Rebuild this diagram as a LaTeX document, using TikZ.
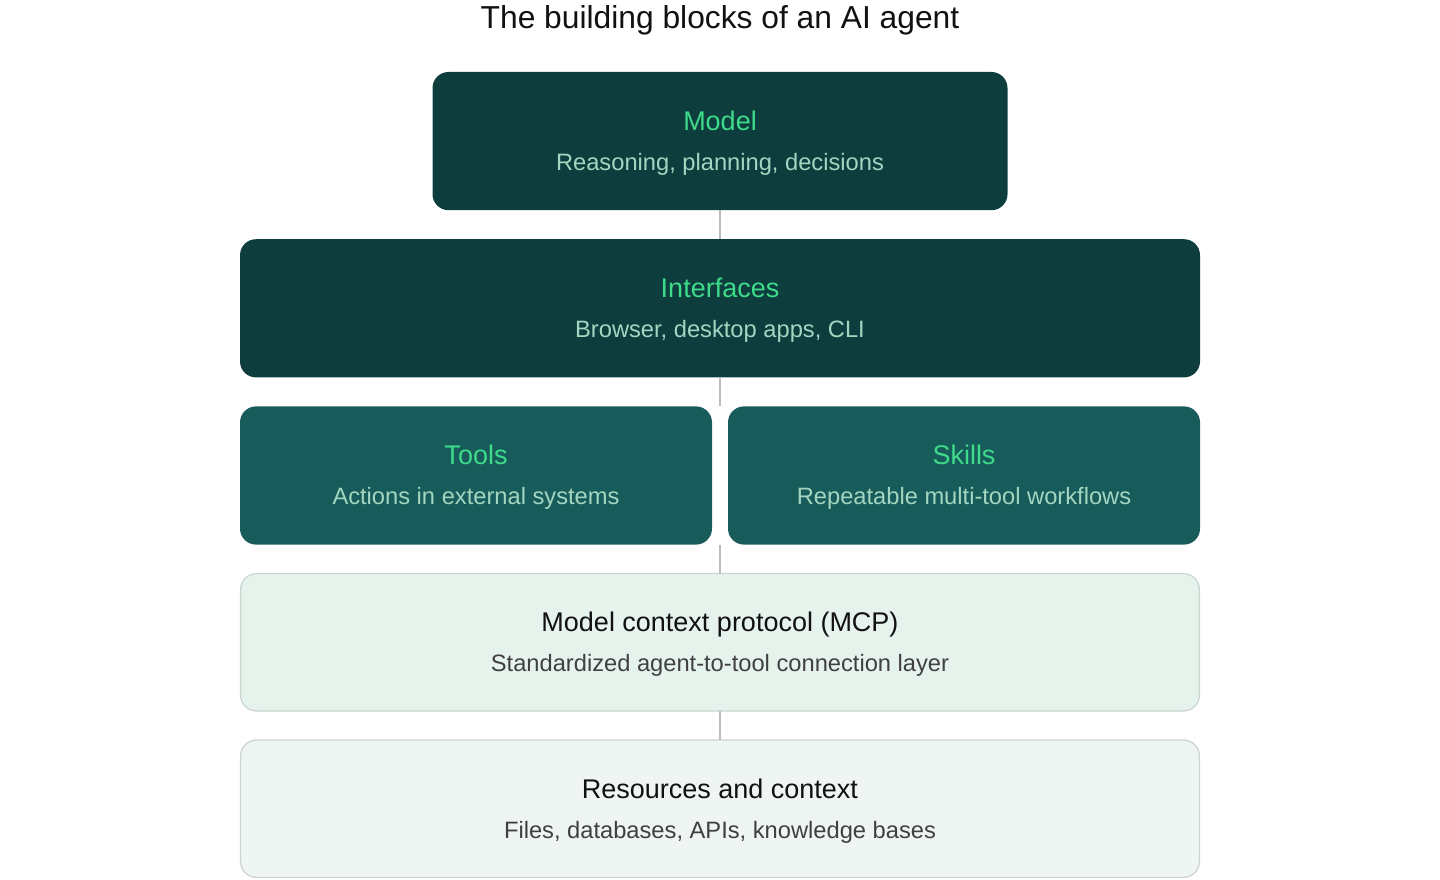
\documentclass[tikz,border=0pt]{standalone}
\usepackage{fontspec}
\setmainfont{Liberation Sans}
\definecolor{deepteal}{HTML}{0E3D3E}
\definecolor{midteal}{HTML}{175B5B}
\definecolor{mint}{HTML}{3DDB8A}
\definecolor{sage}{HTML}{A3D6C0}
\definecolor{mcpfill}{HTML}{E6F3EC}
\definecolor{resfill}{HTML}{EFF5F2}
\definecolor{edgegray}{HTML}{CBD5D0}
\definecolor{linkgray}{HTML}{BBBBBB}
\definecolor{ink}{HTML}{111111}
\definecolor{slate}{HTML}{404040}
\usetikzlibrary{positioning}
\newcommand{\blkhead}[2]{{\fontsize{19.2}{28.45}\selectfont\color{#1}\rule{0pt}{16.9pt}#2}}

\begin{document}
\begin{tikzpicture}[
    block/.style={rounded corners=0.4cm, minimum height=3.455cm, inner sep=0pt, outer sep=0pt,
      align=center, font=\fontsize{16.85}{28.45}\selectfont},
    darkblock/.style={block, fill=deepteal, text=sage},
    midblock/.style={block, fill=midteal, text=sage, minimum width=11.8cm},
    lightblock/.style={block, draw=edgegray, line width=0.9pt, text=slate,
      minimum width=23.97cm, minimum height=3.435cm},
    link/.style={draw=linkgray, line width=1.1pt},
    node distance=0.725cm,
  ]
    \useasboundingbox (0,0) rectangle (36,-22);
    \node[anchor=base, font=\fontsize{22.6}{27}\selectfont, text=ink] (title) at (18,-0.725) {The building blocks of an AI agent};

    \node[darkblock, minimum width=14.375cm, anchor=north] (model) at (18,-1.8) {\blkhead{mint}{Model}\\Reasoning, planning, decisions};
    \node[darkblock, minimum width=24cm, below=of model] (interfaces) {\blkhead{mint}{Interfaces}\\Browser, desktop apps, CLI};
    \node[midblock, below=of interfaces.south west, anchor=north west] (tools) {\blkhead{mint}{Tools}\\Actions in external systems};
    \node[midblock, below=of interfaces.south east, anchor=north east] (skills) {\blkhead{mint}{Skills}\\Repeatable multi-tool workflows};
    \coordinate (fork top) at (interfaces.south |- tools.north);
    \coordinate (fork bottom) at (interfaces.south |- tools.south);
    \node[lightblock, fill=mcpfill, below=of fork bottom] (mcp) {\blkhead{ink}{Model context protocol (MCP)}\\Standardized agent-to-tool connection layer};
    \node[lightblock, fill=resfill, below=of mcp] (resources) {\blkhead{ink}{Resources and context}\\Files, databases, APIs, knowledge bases};

    % links through the stack
    \draw[link] (model) -- (interfaces);
    \draw[link] (interfaces) -- (fork top);
    \draw[link] (fork bottom) -- (mcp);
    \draw[link] (mcp) -- (resources);
  \end{tikzpicture}
\end{document}
